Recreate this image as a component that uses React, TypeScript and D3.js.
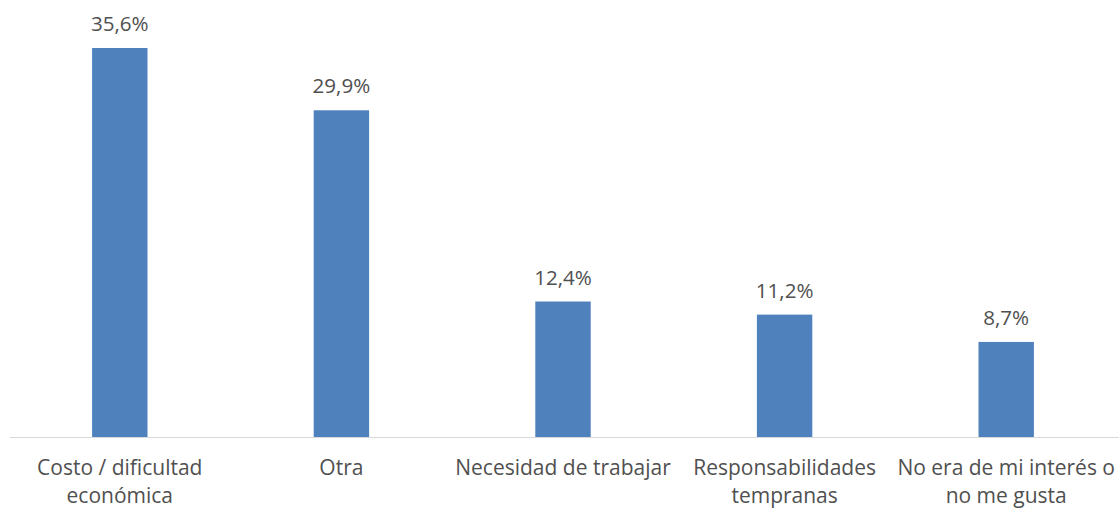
import React from "react";
import * as d3 from "d3";

const categories: string[][] = [
  ["Costo / dificultad", "económica"],
  ["Otra"],
  ["Necesidad de trabajar"],
  ["Responsabilidades", "tempranas"],
  ["No era de mi interés o", "no me gusta"],
];
const values: number[] = [35.6, 29.9, 12.4, 11.2, 8.7];
const labels: string[] = ["35,6%", "29,9%", "12,4%", "11,2%", "8,7%"];

const W = 1119;
const H = 508;
const baseY = 437;
const font = "'Open Sans', sans-serif";

export default function App() {
  const keys = categories.map((_, i) => String(i));
  const x = d3.scaleBand<string>().domain(keys).range([9, 1117]).paddingInner(0.75).paddingOuter(0.375);
  const y = d3.scaleLinear().domain([0, 35.6]).range([baseY, 48]);
  return (
    <div style={{ position: "fixed", left: 0, top: 0 }}>
      <svg width={W} height={H} style={{ display: "block", background: "#fff" }}>
        {values.map((v, i) => (
          <rect key={i} x={x(keys[i])} y={y(v)} width={x.bandwidth()} height={baseY - y(v)} fill="#4F81BD" />
        ))}
        <line x1={10} x2={W} y1={baseY + 0.5} y2={baseY + 0.5} stroke="#D9D9D9" strokeWidth={1} />
        {values.map((v, i) => (
          <text key={i} x={(x(keys[i]) as number) + x.bandwidth() / 2} y={y(v) - 17} textAnchor="middle"
            fontFamily={font} fontSize={20.6} fill="#505050">{labels[i]}</text>
        ))}
        {categories.map((lines, i) => (
          <text key={i} textAnchor="middle" fontFamily={font} fontSize={21} fill="#505050">
            {lines.map((l, j) => (
              <tspan key={j} x={(x(keys[i]) as number) + x.bandwidth() / 2} y={475 + j * 28}>{l}</tspan>
            ))}
          </text>
        ))}
      </svg>
    </div>
  );
}
